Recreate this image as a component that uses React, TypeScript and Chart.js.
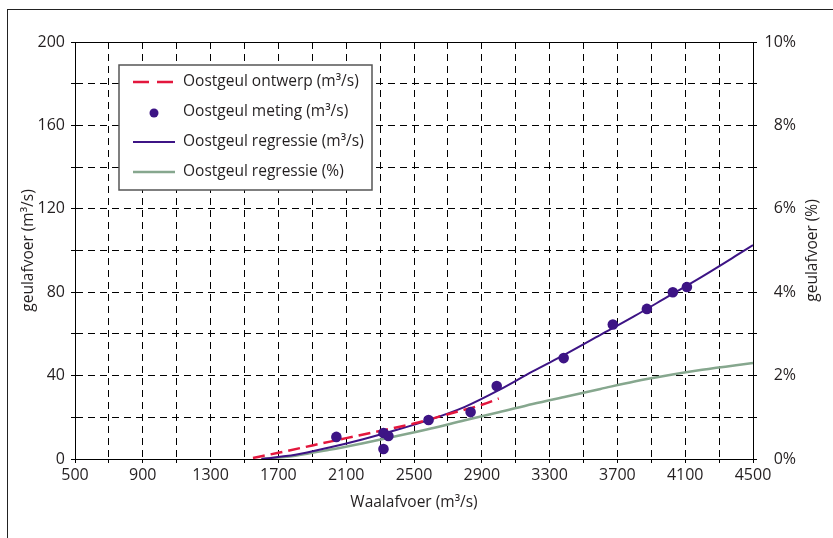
import React, { useEffect, useRef } from 'react';
import { Chart, registerables } from 'chart.js';

Chart.register(...registerables);

const FONT = '"Open Sans", sans-serif';
const TEXT = '#231f20';

// X values (Waalafvoer, m3/s) of the regression curves
const regressieX = [1600, 1800, 2000, 2200, 2400, 2600, 2800, 3000, 3200, 3400, 3600, 3800, 4000, 4200, 4400, 4500];
// Oostgeul regressie (m3/s)
const regressieM3 = [0, 2, 5.5, 9.5, 14, 19, 25, 33, 42, 50.5, 59.5, 68.5, 78, 87.5, 97.5, 102.6];
// Oostgeul regressie (%)
const regressiePct = [0, 0.08, 0.22, 0.38, 0.55, 0.73, 0.93, 1.12, 1.32, 1.5, 1.68, 1.86, 2.01, 2.14, 2.25, 2.3];

// Oostgeul ontwerp (m3/s)
const ontwerpX = [1550, 1700, 1900, 2100, 2300, 2500, 2700, 2900, 3000];
const ontwerpM3 = [0.5, 3, 6.5, 10, 13.5, 17, 21.5, 26, 29];

// Oostgeul meting (m3/s)
const metingX = [2042, 2320, 2349, 2320, 2586, 2834, 2988, 3383, 3673, 3874, 4027, 4110];
const metingM3 = [10.6, 12.5, 11, 4.8, 18.7, 22.5, 35, 48.4, 64.5, 72, 80, 82.5];

// Axes
const xMin = 500, xMax = 4500, xStep = 200, xLabelStep = 400;
const yMin = 0, yMax = 200, yStep = 20, yLabelStep = 40;
const pctMin = 0, pctMax = 10, pctStep = 1, pctLabelStep = 2;

const RED = '#e3173d';
const PURPLE = '#3d1485';
const GREEN = '#86a78e';

const labels = {
  ontwerp: 'Oostgeul ontwerp (m³/s)',
  meting: 'Oostgeul meting (m³/s)',
  regressie: 'Oostgeul regressie (m³/s)',
  regressiePct: 'Oostgeul regressie (%)',
  xTitle: 'Waalafvoer (m³/s)',
  yTitle: 'geulafvoer (m³/s)',
  y1Title: 'geulafvoer (%)',
};

export default function App() {
  const ref = useRef<HTMLCanvasElement>(null);

  useEffect(() => {
    if (!ref.current) return;

    const overlay = {
      id: 'overlay',
      afterDraw(chart: any) {
        const ctx = chart.ctx as CanvasRenderingContext2D;
        const a = chart.chartArea;
        ctx.save();
        // solid top border of the plot
        ctx.strokeStyle = '#000';
        ctx.lineWidth = 1;
        ctx.setLineDash([]);
        ctx.beginPath();
        ctx.moveTo(a.left, Math.round(a.top) + 0.5);
        ctx.lineTo(a.right, Math.round(a.top) + 0.5);
        ctx.stroke();

        // right axis title (reads bottom to top)
        ctx.save();
        ctx.translate(a.right + 60, (a.top + a.bottom) / 2);
        ctx.rotate(-Math.PI / 2);
        ctx.font = `15.5px ${FONT}`;
        ctx.fillStyle = TEXT;
        ctx.textAlign = 'center';
        ctx.textBaseline = 'middle';
        ctx.fillText(labels.y1Title, 0, 0);
        ctx.restore();

        // legend box
        const bx = a.left + 44;
        const by = a.top + 23;
        const bw = 253;
        const bh = 125;
        ctx.fillStyle = '#fff';
        ctx.fillRect(bx, by, bw, bh);
        ctx.strokeStyle = '#555';
        ctx.lineWidth = 1.5;
        ctx.strokeRect(bx, by, bw, bh);

        const sx0 = bx + 14;
        const sx1 = bx + 56;
        const tx = bx + 64;
        const rows = [by + 17, by + 47, by + 77, by + 107];
        ctx.font = `15.5px ${FONT}`;
        ctx.textAlign = 'left';
        ctx.textBaseline = 'middle';

        // ontwerp
        ctx.strokeStyle = RED;
        ctx.lineWidth = 2.5;
        ctx.setLineDash([16, 8]);
        ctx.beginPath();
        ctx.moveTo(sx0, rows[0]);
        ctx.lineTo(sx1, rows[0]);
        ctx.stroke();
        ctx.setLineDash([]);
        ctx.fillStyle = TEXT;
        ctx.fillText(labels.ontwerp, tx, rows[0]);

        // meting
        ctx.fillStyle = PURPLE;
        ctx.beginPath();
        ctx.arc((sx0 + sx1) / 2, rows[1] + 1, 4.5, 0, Math.PI * 2);
        ctx.fill();
        ctx.fillStyle = TEXT;
        ctx.fillText(labels.meting, tx, rows[1]);

        // regressie m3/s
        ctx.strokeStyle = PURPLE;
        ctx.lineWidth = 2;
        ctx.beginPath();
        ctx.moveTo(sx0, rows[2]);
        ctx.lineTo(sx1, rows[2]);
        ctx.stroke();
        ctx.fillText(labels.regressie, tx, rows[2]);

        // regressie %
        ctx.strokeStyle = GREEN;
        ctx.lineWidth = 2.5;
        ctx.beginPath();
        ctx.moveTo(sx0, rows[3]);
        ctx.lineTo(sx1, rows[3]);
        ctx.stroke();
        ctx.fillText(labels.regressiePct, tx, rows[3]);

        ctx.restore();
      },
    };

    const gridCommon = {
      color: '#000',
      lineWidth: 1,
      tickLength: 4,
      tickColor: '#000',
      tickWidth: 1,
      tickBorderDash: [],
    };

    const chart = new Chart(ref.current, {
      type: 'line',
      data: {
        datasets: [
          {
            label: labels.meting,
            data: metingX.map((x, i) => ({ x, y: metingM3[i] })),
            showLine: false,
            pointRadius: 5.3,
            pointBackgroundColor: PURPLE,
            pointBorderColor: PURPLE,
            pointBorderWidth: 0,
            yAxisID: 'y',
            order: 0,
          },
          {
            label: labels.ontwerp,
            data: ontwerpX.map((x, i) => ({ x, y: ontwerpM3[i] })),
            borderColor: RED,
            borderWidth: 2.5,
            borderDash: [12, 6],
            pointRadius: 0,
            cubicInterpolationMode: 'monotone',
            yAxisID: 'y',
            order: 1,
          },
          {
            label: labels.regressie,
            data: regressieX.map((x, i) => ({ x, y: regressieM3[i] })),
            borderColor: PURPLE,
            borderWidth: 2,
            pointRadius: 0,
            cubicInterpolationMode: 'monotone',
            yAxisID: 'y',
            order: 2,
          },
          {
            label: labels.regressiePct,
            data: regressieX.map((x, i) => ({ x, y: regressiePct[i] })),
            borderColor: GREEN,
            borderWidth: 2.5,
            pointRadius: 0,
            cubicInterpolationMode: 'monotone',
            yAxisID: 'y1',
            order: 3,
          },
        ],
      },
      options: {
        animation: false,
        responsive: false,
        devicePixelRatio: 1,
        layout: { padding: { top: 42, left: 0, right: 37, bottom: 0 } },
        plugins: { legend: { display: false }, tooltip: { enabled: false } },
        scales: {
          x: {
            type: 'linear',
            position: 'bottom',
            min: xMin,
            max: xMax,
            afterFit: (s: any) => { s.height = 79; },
            ticks: {
              stepSize: xStep,
              autoSkip: false,
              maxRotation: 0,
              padding: 3,
              color: TEXT,
              font: { family: FONT, size: 16 },
              callback: (v: any) => ((Number(v) - xMin) % xLabelStep === 0 ? String(v) : ''),
            },
            grid: gridCommon,
            border: { display: true, color: '#000', width: 1, dash: [7, 5] },
            title: {
              display: true,
              text: labels.xTitle,
              color: TEXT,
              font: { family: FONT, size: 15.5 },
              padding: { top: 0, bottom: 26 },
            },
          },
          y: {
            type: 'linear',
            position: 'left',
            min: yMin,
            max: yMax,
            afterFit: (s: any) => { s.width = 75; },
            ticks: {
              stepSize: yStep,
              autoSkip: false,
              padding: 6,
              color: TEXT,
              font: { family: FONT, size: 16 },
              callback: (v: any) => (Number(v) % yLabelStep === 0 ? String(v) : ''),
            },
            grid: gridCommon,
            border: { display: true, color: '#000', width: 1, dash: [7, 5] },
            title: {
              display: true,
              text: labels.yTitle,
              color: TEXT,
              font: { family: FONT, size: 15.5 },
              padding: { top: 19, bottom: 0 },
            },
          },
          y1: {
            type: 'linear',
            position: 'right',
            min: pctMin,
            max: pctMax,
            afterFit: (s: any) => { s.width = 43; },
            ticks: {
              stepSize: pctStep,
              autoSkip: false,
              padding: 5,
              crossAlign: 'far',
              color: TEXT,
              font: { family: FONT, size: 16 },
              callback: (v: any) => (Number(v) % pctLabelStep === 0 ? `${v}%` : ''),
            },
            grid: { ...gridCommon, drawOnChartArea: false },
            border: { display: true, color: '#000', width: 1 },
          },
        },
      },
      plugins: [overlay],
    } as any);

    return () => chart.destroy();
  }, []);

  return (
    <div style={{ position: 'absolute', left: 0, top: 0, width: 833, height: 538, overflow: 'hidden', background: '#fff' }}>
      <div
        style={{
          position: 'absolute',
          left: 7,
          top: 9,
          width: 900,
          height: 600,
          borderLeft: '1.5px solid #222',
          borderTop: '1.5px solid #222',
        }}
      />
      <canvas ref={ref} width={833} height={538} style={{ position: 'absolute', left: 0, top: 0, display: 'block' }} />
    </div>
  );
}
